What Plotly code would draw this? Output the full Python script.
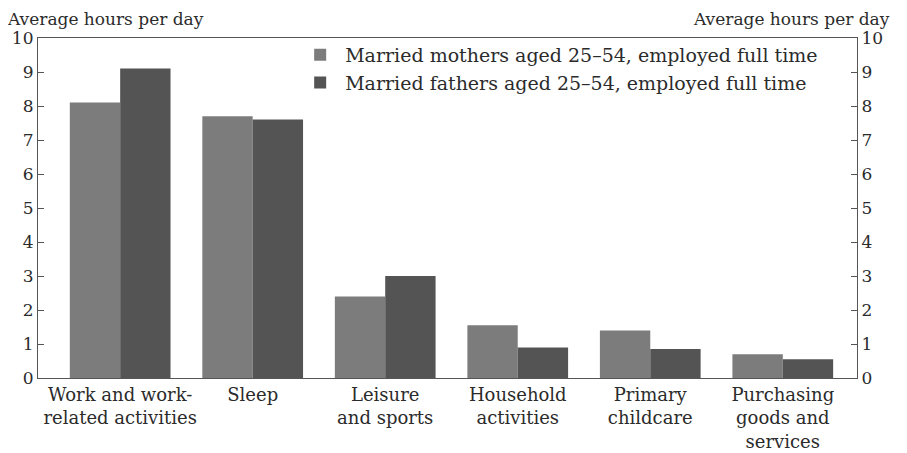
import plotly.graph_objects as go

categories = ["Work and work-<br>related activities", "Sleep", "Leisure<br>and sports",
              "Household<br>activities", "Primary<br>childcare", "Purchasing<br>goods and<br>services"]
mothers = [8.1, 7.7, 2.4, 1.55, 1.4, 0.7]
fathers = [9.1, 7.6, 3.0, 0.9, 0.85, 0.55]
series_names = ["Married mothers aged 25–54, employed full time",
                "Married fathers aged 25–54, employed full time"]
y_ticks = list(range(0, 11))

FONT = "DejaVu Serif"
TXT = "#2b2b2b"
FS = 18
FT = 17

fig = go.Figure()
fig.add_trace(go.Bar(x=categories, y=mothers, name=series_names[0],
                     marker=dict(color="#7c7c7c", line=dict(width=0))))
fig.add_trace(go.Bar(x=categories, y=fathers, name=series_names[1],
                     marker=dict(color="#545454", line=dict(width=0))))
fig.add_trace(go.Scatter(x=categories, y=[None] * len(categories), yaxis="y2",
                         showlegend=False, hoverinfo="skip", mode="lines"))

fig.update_layout(
    width=907, height=453,
    margin=dict(l=30, r=58, t=30, b=83, autoexpand=False),
    paper_bgcolor="white", plot_bgcolor="white",
    font=dict(family=FONT, size=FS, color=TXT),
    barmode="group", bargap=0.24, bargroupgap=0,
    showlegend=True,
    legend=dict(x=0.314, y=1.006, xanchor="left", yanchor="top",
                bgcolor="rgba(0,0,0,0)", font=dict(size=19, family=FONT, color=TXT),
                itemsizing="constant", tracegroupgap=0, itemwidth=40),
    xaxis=dict(type="category", range=[-0.62, 5.56], showline=True, linecolor="#555",
               linewidth=1.2, mirror=True, ticks="", showgrid=False, automargin=False,
               tickfont=dict(size=FS, family=FONT, color=TXT)),
    yaxis=dict(range=[0, 10], tickvals=y_ticks, showline=True, linecolor="#555",
               linewidth=1.2, ticks="inside", ticklen=6, tickcolor="#555",
               showgrid=False, zeroline=False, automargin=False,
               tickfont=dict(size=FT, family=FONT, color=TXT)),
    yaxis2=dict(range=[0, 10], tickvals=y_ticks, overlaying="y", side="right",
                showline=True, linecolor="#555", linewidth=1.2, ticks="inside",
                ticklen=6, tickcolor="#555", showgrid=False, zeroline=False,
                automargin=False, tickfont=dict(size=FT, family=FONT, color=TXT)),
    annotations=[
        dict(text="Average hours per day", x=0, xref="paper", xanchor="left",
             xshift=-32, y=1, yref="paper", yanchor="top", yshift=30, borderpad=0,
             showarrow=False, font=dict(size=17, family=FONT, color=TXT)),
        dict(text="Average hours per day", x=1, xref="paper", xanchor="right",
             xshift=34, y=1, yref="paper", yanchor="top", yshift=30, borderpad=0,
             showarrow=False, font=dict(size=17, family=FONT, color=TXT)),
    ],
)

fig.write_html("out.html")
